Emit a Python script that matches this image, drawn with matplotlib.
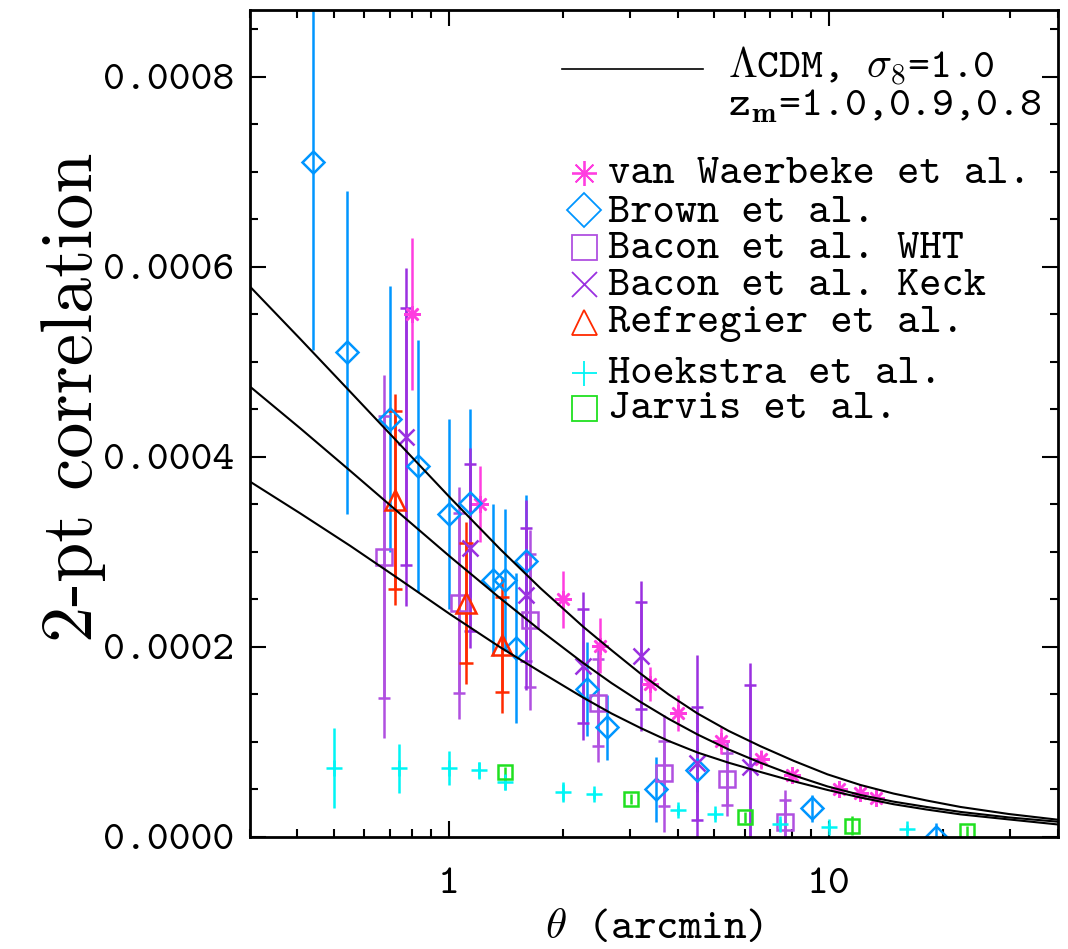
import numpy as np
import matplotlib
matplotlib.use("Agg")
import matplotlib.pyplot as plt
from matplotlib.ticker import FixedLocator, NullFormatter, FuncFormatter, MultipleLocator

plt.rcParams['mathtext.fontset'] = 'cm'
plt.rcParams['font.family'] = ['cmtt10', 'DejaVu Sans']
plt.rcParams['axes.unicode_minus'] = False

# ---------------- data (xi in units of 1e-4) ----------------
theta_model = [0.30, 0.407, 0.551, 0.746, 1.01, 1.368, 1.743, 2.262, 2.68, 3.196, 3.786, 4.512,
               5.445, 6.61, 8.075, 9.92, 12.12, 14.8, 18.08, 22.2, 29.72, 40.0]
xi_zm10 = [5.789, 5.237, 4.681, 4.123, 3.565, 3.023, 2.615, 2.207, 1.963, 1.716, 1.498, 1.297,
           1.114, 0.952, 0.799, 0.656, 0.544, 0.454, 0.381, 0.313, 0.239, 0.179]
xi_zm09 = [4.737, 4.297, 3.849, 3.396, 2.944, 2.507, 2.171, 1.826, 1.617, 1.418, 1.241, 1.076,
           0.919, 0.778, 0.646, 0.529, 0.439, 0.369, 0.313, 0.261, 0.203, 0.158]
xi_zm08 = [3.737, 3.402, 3.060, 2.702, 2.339, 1.992, 1.734, 1.462, 1.297, 1.144, 1.008, 0.886,
           0.779, 0.681, 0.584, 0.492, 0.412, 0.342, 0.286, 0.235, 0.182, 0.129]

vw_theta = [0.80, 1.207, 2.00, 2.507, 3.375, 4.005, 5.19, 6.61, 8.01, 10.63, 12.07, 13.27]
vw_xi    = [5.50, 3.50, 2.50, 2.01, 1.61, 1.30, 1.01, 0.815, 0.65, 0.50, 0.457, 0.41]
vw_err   = [0.80, 0.40, 0.30, 0.29, 0.18, 0.19, 0.14, 0.10, 0.08, 0.06, 0.06, 0.05]

br_theta = [0.44, 0.540, 0.702, 0.831, 1.00, 1.14, 1.309, 1.402, 1.504, 1.60, 2.304, 2.61, 3.51, 4.506, 9.04, 19.1]
br_xi    = [7.10, 5.10, 4.40, 3.90, 3.40, 3.51, 2.70, 2.70, 1.99, 2.90, 1.55, 1.15, 0.50, 0.70, 0.30, 0.0]
br_err   = [1.98, 1.70, 1.40, 1.33, 1.00, 0.99, 0.80, 0.75, 0.79, 0.695, 0.495, 0.344, 0.343, 0.23, 0.14, 0.14]

wht_theta = [0.674, 1.063, 1.64, 2.473, 3.68, 5.40, 7.69]
wht_xi    = [2.944, 2.457, 2.28, 1.41, 0.667, 0.607, 0.158]
wht_err   = [1.91, 1.22, 0.95, 0.62, 0.614, 0.39, 0.33]
wht_err_in = [1.48, 0.947, 0.70, 0.455, 0.34, 0.27, 0.23]

keck_theta = [0.774, 1.136, 1.60, 2.258, 3.196, 4.506, 6.20]
keck_xi    = [4.21, 3.04, 2.544, 1.797, 1.905, 0.773, 0.737]
keck_err   = [1.78, 1.05, 1.00, 0.775, 0.79, 1.14, 1.09]
keck_err_in = [1.35, 0.88, 0.70, 0.60, 0.565, 0.593, 0.86]

ref_theta = [0.721, 1.113, 1.382]
ref_xi    = [3.544, 2.457, 2.018]
ref_err   = [1.11, 0.85, 0.72]
ref_err_in = [0.94, 0.63, 0.50]

hoek_theta = [0.50, 0.742, 1.00, 1.20, 1.404, 2.004, 2.408, 4.005, 5.01, 7.43, 10.02, 16.08]
hoek_xi    = [0.72, 0.72, 0.72, 0.70, 0.58, 0.467, 0.446, 0.281, 0.236, 0.134, 0.105, 0.078]
hoek_err   = [0.42, 0.255, 0.18, 0.09, 0.085, 0.105, 0.05, 0.05, 0.05, 0.05, 0.04, 0.04]

jar_theta = [1.404, 3.008, 6.01, 11.54, 23.1]
jar_xi    = [0.678, 0.397, 0.204, 0.113, 0.06]
jar_err   = [0.06, 0.05, 0.06, 0.10, 0.05]

x_major = [1, 10]
x_major_labels = ["1", "10"]
legend_labels = ["van Waerbeke et al.", "Brown et al.", "Bacon et al. WHT",
                 "Bacon et al. Keck", "Refregier et al.", "Hoekstra et al.", "Jarvis et al."]

UNIT = 1e-4
def s(v):
    return np.asarray(v, dtype=float) * UNIT

C_VW = '#ff3ee0'
C_BR = '#0096ff'
C_WHT = '#b050e0'
C_KECK = '#9a30e0'
C_REF = '#ff2a00'
C_HOEK = '#00f5f5'
C_JAR = '#20e020'

fig = plt.figure(figsize=(10.68, 9.49), dpi=100)
ax = fig.add_axes([0.23408, 0.11833, 0.75627, 0.87113])
ax.set_xscale('log')
ax.set_xlim(0.3, 40)
ax.set_ylim(0, 0.00087)

EW = 1.8
MEW = 1.8

# Brown
ax.errorbar(br_theta, s(br_xi), yerr=s(br_err), fmt='D', ms=11, mfc='none', mec=C_BR,
            mew=MEW, ecolor=C_BR, elinewidth=EW, capsize=0, zorder=2)
# Bacon WHT
ax.errorbar(wht_theta, s(wht_xi), yerr=s(wht_err), fmt='none', ecolor=C_WHT, elinewidth=EW, zorder=2)
ax.errorbar(wht_theta, s(wht_xi), yerr=s(wht_err_in), fmt='s', ms=11, mfc='none', mec=C_WHT, mew=MEW,
            ecolor=C_WHT, elinewidth=EW, capsize=4, capthick=EW, zorder=2)
# Bacon Keck
ax.errorbar(keck_theta, s(keck_xi), yerr=s(keck_err), fmt='none', ecolor=C_KECK, elinewidth=EW, zorder=2)
ax.errorbar(keck_theta, s(keck_xi), yerr=s(keck_err_in), fmt='x', ms=11, mec=C_KECK, mew=MEW,
            ecolor=C_KECK, elinewidth=EW, capsize=4, capthick=EW, zorder=2)
# Refregier
ax.errorbar(ref_theta, s(ref_xi), yerr=s(ref_err), fmt='none', ecolor=C_REF, elinewidth=EW, zorder=2)
ax.errorbar(ref_theta, s(ref_xi), yerr=s(ref_err_in), fmt='^', ms=15, mfc='none', mec=C_REF, mew=MEW,
            ecolor=C_REF, elinewidth=EW, capsize=5, capthick=EW, zorder=2)
# van Waerbeke
ax.errorbar(vw_theta, s(vw_xi), yerr=s(vw_err), fmt='none', ecolor=C_VW, elinewidth=EW, zorder=2)
ax.plot(vw_theta, s(vw_xi), ls='none', marker=(8, 2, 0), ms=12, mec=C_VW, mew=MEW, zorder=2)
# Hoekstra
ax.errorbar(hoek_theta, s(hoek_xi), yerr=s(hoek_err), fmt='+', ms=11, mec=C_HOEK, mew=EW,
            ecolor=C_HOEK, elinewidth=EW, capsize=0, zorder=2)
# Jarvis
ax.errorbar(jar_theta, s(jar_xi), yerr=s(jar_err), fmt='s', ms=10.5, mfc='none', mec=C_JAR, mew=MEW,
            ecolor=C_JAR, elinewidth=EW, capsize=0, zorder=2)

# model curves
for xi in (xi_zm10, xi_zm09, xi_zm08):
    ax.plot(theta_model, s(xi), color='black', lw=1.5, zorder=4)

# axes styling
for sp in ax.spines.values():
    sp.set_linewidth(2.0)
ax.yaxis.set_major_locator(MultipleLocator(0.0002))
ax.yaxis.set_minor_locator(MultipleLocator(0.00005))
ax.yaxis.set_major_formatter(FuncFormatter(lambda v, p: f"{v:.4f}"))
ax.set_xticks(x_major)
ax.set_xticklabels(x_major_labels, fontsize=30)
ax.xaxis.set_minor_locator(FixedLocator([0.3, 0.4, 0.5, 0.6, 0.7, 0.8, 0.9, 2, 3, 4, 5, 6, 7, 8, 9, 20, 30, 40]))
ax.xaxis.set_minor_formatter(NullFormatter())
ax.tick_params(which='both', direction='in', top=True, right=True, width=1.5)
ax.tick_params(which='major', length=11.5)
ax.tick_params(which='minor', length=5.5)
ax.tick_params(axis='y', labelsize=30, pad=11)
ax.tick_params(axis='x', pad=40.5)
for lab in ax.xaxis.get_majorticklabels():
    lab.set_verticalalignment('baseline')

ax.set_ylabel("2-pt correlation", fontsize=52, family='cmr10')
ax.yaxis.set_label_coords(-0.178, 0.531)
ax.set_xlabel(r"$\theta$ (arcmin)", fontsize=31, va='baseline')
ax.xaxis.set_label_coords(0.5, -0.1225)

# legend (manual)
tr = ax.transAxes
ax.plot([0.3863, 0.5612], [0.929, 0.929], color='black', lw=1.2, transform=tr, clip_on=False)
ax.text(0.5922, 0.9174, r"$\Lambda$CDM, $\sigma_8$=1.0", fontsize=30, transform=tr, va='baseline')
ax.text(0.5922, 0.8718, r"z$_{\mathbf{m}}$=1.0,0.9,0.8", fontsize=30, transform=tr, va='baseline')

leg_markers = [((8, 2, 0), C_VW, 18), ('D', C_BR, 17), ('s', C_WHT, 18), ('x', C_KECK, 18),
               ('^', C_REF, 18), ('+', C_HOEK, 18), ('s', C_JAR, 18)]
marker_y = [0.8032, 0.7581, 0.7130, 0.6686, 0.6230, 0.5613, 0.5186]
text_y = [0.7904, 0.7439, 0.6996, 0.6553, 0.6109, 0.5492, 0.5061]
for (m, c, ms), my, ty, lab in zip(leg_markers, marker_y, text_y, legend_labels):
    ax.plot([0.4135], [my], ls='none', marker=m, ms=ms, mfc='none', mec=c, mew=1.3,
            transform=tr, clip_on=False)
    ax.text(0.4436, ty, lab, fontsize=30.5, transform=tr, va='baseline')

fig.savefig("out.png", dpi=100)
